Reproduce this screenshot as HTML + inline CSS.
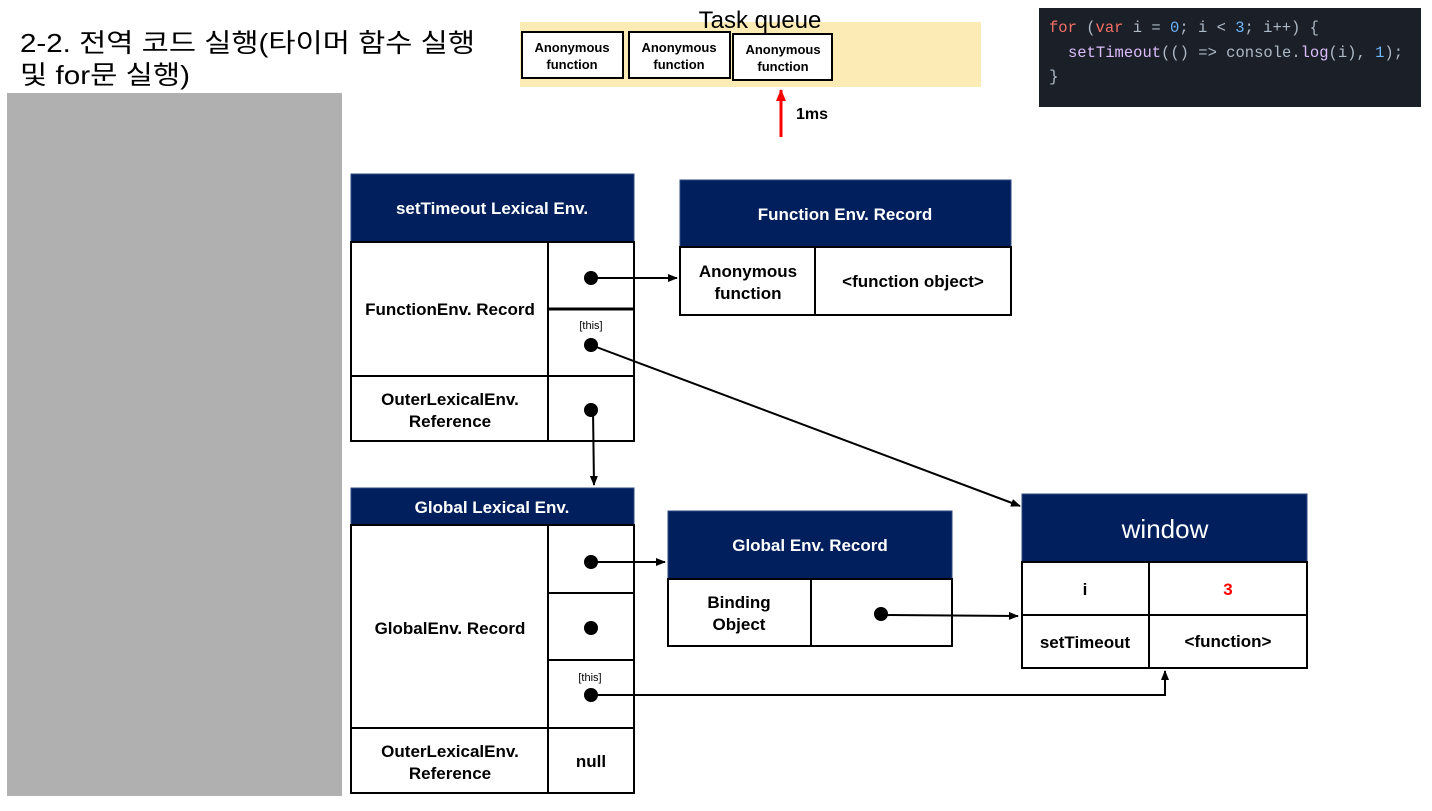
<!DOCTYPE html>
<html><head><meta charset="utf-8"><style>
html,body{margin:0;padding:0;background:#fff;width:1432px;height:811px;overflow:hidden}
svg{display:block}
text{font-family:"Liberation Sans","Noto Sans CJK KR",sans-serif}
.b{font-weight:bold;font-size:17px}
.w{fill:#fff;font-weight:bold;font-size:17px}
.mono{font-family:"Liberation Mono",monospace;font-size:16px}
</style></head><body>
<svg width="1432" height="811" viewBox="0 0 1432 811">
<defs>
<marker id="ah" markerWidth="10" markerHeight="8" refX="9" refY="4" orient="auto" markerUnits="userSpaceOnUse"><path d="M0,0L10,4L0,8z" fill="#000"/></marker>
<marker id="ahr" markerWidth="12" markerHeight="10" refX="11" refY="5" orient="auto" markerUnits="userSpaceOnUse"><path d="M0,0L12,5L0,10z" fill="#f00"/></marker>
</defs>
<rect x="7" y="93" width="335" height="703" fill="#b0b0b0"/>
<text x="20" y="52" font-size="26" textLength="455" lengthAdjust="spacingAndGlyphs">2-2. 전역 코드 실행(타이머 함수 실행</text>
<text x="20" y="84" font-size="26" textLength="170" lengthAdjust="spacingAndGlyphs">및 for문 실행)</text>

<rect x="520" y="22" width="461" height="65" fill="#fdebb5"/>
<text x="760" y="28" font-size="24" text-anchor="middle">Task queue</text>
<g fill="#fff" stroke="#000" stroke-width="2">
<rect x="522" y="32" width="101" height="46"/><rect x="629" y="32" width="101" height="46"/><rect x="733" y="34" width="99" height="46"/>
</g>
<g font-size="13" font-weight="bold" text-anchor="middle">
<text x="572" y="52">Anonymous</text><text x="572" y="69">function</text>
<text x="679" y="52">Anonymous</text><text x="679" y="69">function</text>
<text x="783" y="54">Anonymous</text><text x="783" y="71">function</text>
</g>
<line x1="781" y1="137" x2="781" y2="90" stroke="#f00" stroke-width="3" marker-end="url(#ahr)"/>
<text x="796" y="119" font-size="16" font-weight="bold">1ms</text>

<rect x="1039" y="8" width="382" height="99" fill="#1b1f27"/>
<text class="mono" x="1049" y="32" textLength="270" lengthAdjust="spacingAndGlyphs"><tspan fill="#f47067">for</tspan><tspan fill="#adbac7"> (</tspan><tspan fill="#f47067">var</tspan><tspan fill="#adbac7"> i = </tspan><tspan fill="#6cb6ff">0</tspan><tspan fill="#adbac7">; i &lt; </tspan><tspan fill="#6cb6ff">3</tspan><tspan fill="#adbac7">; i++) {</tspan></text>
<text class="mono" x="1068" y="57" textLength="335" lengthAdjust="spacingAndGlyphs"><tspan fill="#dcbdfb">setTimeout</tspan><tspan fill="#adbac7">(() =&gt; console.</tspan><tspan fill="#dcbdfb">log</tspan><tspan fill="#adbac7">(i), </tspan><tspan fill="#6cb6ff">1</tspan><tspan fill="#adbac7">);</tspan></text>
<text class="mono" x="1049" y="81" fill="#adbac7">}</text>

<!-- setTimeout Lexical Env -->
<rect x="351" y="174" width="283" height="68" fill="#001f5c" stroke="#2f4a80"/>
<text class="w" x="492" y="214" text-anchor="middle">setTimeout Lexical Env.</text>
<g fill="none" stroke="#000" stroke-width="2">
<rect x="351" y="242" width="283" height="199"/>
<line x1="548" y1="242" x2="548" y2="441"/>
<line x1="351" y1="376" x2="634" y2="376"/>
<line x1="548" y1="309" x2="634" y2="309" stroke-width="3"/>
</g>
<text class="b" x="450" y="315" text-anchor="middle">FunctionEnv. Record</text>
<text class="b" x="450" y="405" text-anchor="middle">OuterLexicalEnv.</text>
<text class="b" x="450" y="427" text-anchor="middle">Reference</text>
<text x="591" y="329" font-size="11" text-anchor="middle">[this]</text>

<!-- Function Env Record -->
<rect x="680" y="180" width="331" height="67" fill="#001f5c" stroke="#2f4a80"/>
<text class="w" x="845" y="220" text-anchor="middle">Function Env. Record</text>
<g fill="none" stroke="#000" stroke-width="2">
<rect x="680" y="247" width="331" height="68"/><line x1="815" y1="247" x2="815" y2="315"/>
</g>
<text class="b" x="748" y="277" text-anchor="middle">Anonymous</text>
<text class="b" x="748" y="299" text-anchor="middle">function</text>
<text class="b" x="913" y="287" text-anchor="middle">&lt;function object&gt;</text>

<!-- Global Lexical Env -->
<rect x="351" y="488" width="283" height="37" fill="#001f5c" stroke="#2f4a80"/>
<text class="w" x="492" y="513" text-anchor="middle">Global Lexical Env.</text>
<g fill="none" stroke="#000" stroke-width="2">
<rect x="351" y="525" width="283" height="268"/>
<line x1="548" y1="525" x2="548" y2="793"/>
<line x1="351" y1="728" x2="634" y2="728"/>
<line x1="548" y1="593" x2="634" y2="593"/>
<line x1="548" y1="660" x2="634" y2="660"/>
</g>
<text class="b" x="450" y="634" text-anchor="middle">GlobalEnv. Record</text>
<text class="b" x="450" y="757" text-anchor="middle">OuterLexicalEnv.</text>
<text class="b" x="450" y="779" text-anchor="middle">Reference</text>
<text class="b" x="591" y="767" text-anchor="middle">null</text>
<text x="590" y="681" font-size="11" text-anchor="middle">[this]</text>

<!-- Global Env Record -->
<rect x="668" y="511" width="284" height="68" fill="#001f5c" stroke="#2f4a80"/>
<text class="w" x="810" y="551" text-anchor="middle">Global Env. Record</text>
<g fill="none" stroke="#000" stroke-width="2">
<rect x="668" y="579" width="284" height="67"/><line x1="811" y1="579" x2="811" y2="646"/>
</g>
<text class="b" x="739" y="608" text-anchor="middle">Binding</text>
<text class="b" x="739" y="630" text-anchor="middle">Object</text>

<!-- window -->
<rect x="1022" y="494" width="285" height="68" fill="#001f5c" stroke="#2f4a80"/>
<text x="1165" y="538" font-size="26" fill="#fff" text-anchor="middle">window</text>
<g fill="none" stroke="#000" stroke-width="2">
<rect x="1022" y="562" width="285" height="106"/>
<line x1="1149" y1="562" x2="1149" y2="668"/>
<line x1="1022" y1="615" x2="1307" y2="615"/>
</g>
<text class="b" x="1085" y="595" text-anchor="middle">i</text>
<text class="b" x="1228" y="595" text-anchor="middle" fill="#f00">3</text>
<text class="b" x="1085" y="648" text-anchor="middle">setTimeout</text>
<text class="b" x="1228" y="647" text-anchor="middle">&lt;function&gt;</text>

<!-- dots and connectors -->
<g fill="#000">
<circle cx="591" cy="278" r="7"/><circle cx="591" cy="345" r="7"/><circle cx="591" cy="410" r="7"/>
<circle cx="591" cy="562" r="7"/><circle cx="591" cy="628" r="7"/><circle cx="591" cy="695" r="7"/>
<circle cx="881" cy="614" r="7"/>
</g>
<g stroke="#000" stroke-width="2" fill="none">
<line x1="591" y1="278" x2="677" y2="278" marker-end="url(#ah)"/>
<line x1="591" y1="345" x2="1020" y2="506" marker-end="url(#ah)"/>
<line x1="593" y1="410" x2="594" y2="485" marker-end="url(#ah)"/>
<line x1="591" y1="562" x2="665" y2="562" marker-end="url(#ah)"/>
<line x1="881" y1="615" x2="1018" y2="616" marker-end="url(#ah)"/>
<polyline points="591,695 1165,695 1165,671" marker-end="url(#ah)"/>
</g>
</svg>
</body></html>
